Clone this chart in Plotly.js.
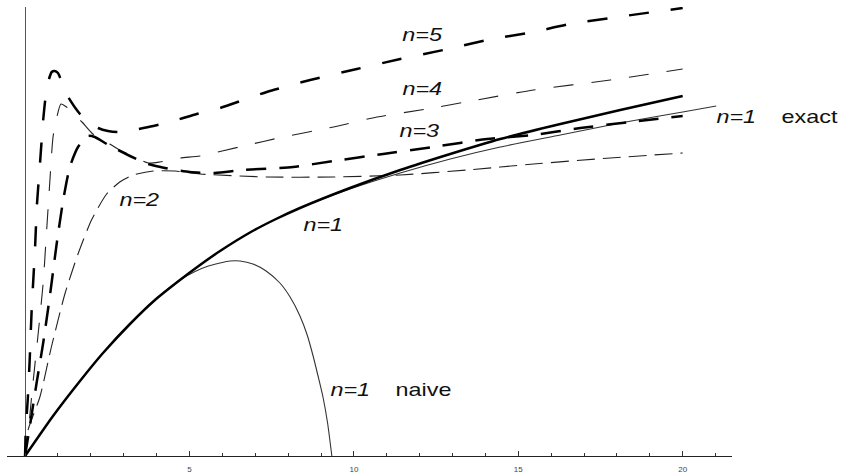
<!DOCTYPE html>
<html>
<head>
<meta charset="utf-8">
<script src="https://cdn.plot.ly/plotly-3.0.1.min.js"></script>
<style>html,body{margin:0;padding:0;background:#fff;}#chart{width:845px;height:474px;}</style>
</head>
<body>
<div id="chart"></div>
<script>
// Values (x in axis units, y in arbitrary units)
const xTicks = [5, 10, 15, 20];

const xN1 = [0,0.85,1.67,2.37,3.19,3.95,4.71,5.32,5.93,6.84,7.60,8.36,9.88,11.41,12.93,14.45,16.28,18.10,20];
const yN1 = [0,0.40,0.75,1.03,1.32,1.56,1.76,1.91,2.05,2.235,2.365,2.48,2.68,2.86,3.02,3.17,3.32,3.46,3.60];

const xExact = [0,0.85,1.67,2.37,3.19,3.95,4.71,5.32,5.93,6.84,7.60,8.36,9.88,11.41,12.93,14.45,16.28,18.10,20,21.02];
const yExact = [0,0.40,0.75,1.03,1.32,1.56,1.76,1.91,2.05,2.235,2.365,2.48,2.67,2.83,2.97,3.09,3.21,3.33,3.44,3.50];

const xNaive = [0,0.85,1.67,2.37,3.19,3.95,4.71,5.17,5.53,5.93,6.23,6.54,6.93,7.33,7.75,8.06,8.36,8.58,8.76,8.91,9.06,9.20,9.33];
const yNaive = [0,0.40,0.75,1.03,1.32,1.56,1.76,1.845,1.895,1.93,1.95,1.95,1.92,1.85,1.73,1.59,1.40,1.21,1.00,0.80,0.59,0.33,0];

const xN2 = [0,0.09,0.45,0.80,1.21,1.61,2.02,2.48,2.88,3.29,3.90,4.56,5.32,7.35,9.38,11.41,13.44,15.46,17.80,20];
const yN2 = [0,0.26,0.59,1.09,1.62,2.02,2.36,2.62,2.74,2.81,2.85,2.85,2.82,2.79,2.79,2.81,2.86,2.92,2.98,3.03];

const xN3 = [0,0.14,0.35,0.55,0.75,0.96,1.16,1.36,1.61,1.91,2.12,2.43,2.82,3.19,3.74,4.25,5.01,5.77,6.63,8.15,9.37,10.89,12.41,14.05,15.46,16.89,18.41,20];
const yN3 = [0,0.29,0.73,1.13,1.59,2.12,2.56,2.89,3.09,3.20,3.19,3.13,3.06,3.00,2.92,2.88,2.84,2.83,2.86,2.89,2.95,3.02,3.09,3.17,3.21,3.28,3.34,3.40];

const xN4 = [0,0.09,0.24,0.40,0.55,0.65,0.75,0.85,0.96,1.09,1.26,1.48,1.73,2.06,2.43,2.82,3.19,3.74,4.10,4.71,5.32,6.64,7.85,9.38,10.70,12.22,13.74,15.46,17.80,20];
const yN4 = [0,0.23,0.73,1.23,1.73,2.23,2.73,3.19,3.38,3.52,3.49,3.42,3.34,3.22,3.15,3.07,3.01,2.93,2.94,2.98,3.00,3.10,3.19,3.29,3.39,3.47,3.56,3.66,3.76,3.87];

const xN5 = [0,0.02,0.08,0.14,0.20,0.30,0.36,0.45,0.55,0.63,0.70,0.81,0.90,1.00,1.15,1.31,1.67,1.97,2.22,2.52,2.83,3.29,3.90,4.61,5.22,5.93,7.35,8.67,10.09,11.41,12.72,14.05,15.46,16.58,20];
const yN5 = [0,0.26,0.56,0.96,1.46,2.06,2.51,2.91,3.36,3.61,3.74,3.84,3.85,3.83,3.71,3.59,3.42,3.33,3.28,3.25,3.24,3.26,3.30,3.36,3.42,3.48,3.64,3.76,3.87,3.97,4.06,4.16,4.24,4.32,4.48];

function tr(x, y, w, color, dash) {
  return {x: x, y: y, type: 'scatter', mode: 'lines',
    line: {width: w, color: color, dash: dash, shape: 'spline', smoothing: 0.6},
    hoverinfo: 'skip', showlegend: false};
}

const data = [
  tr(xNaive, yNaive, 1.1, '#333', 'solid'),
  tr(xExact, yExact, 1.1, '#333', 'solid'),
  tr(xN2, yN2, 1.1, '#222', '18px,8px'),
  tr(xN4, yN4, 1.1, '#222', '20px,18px'),
  tr(xN1, yN1, 2.5, '#000', 'solid'),
  tr(xN3, yN3, 2.5, '#000', '20px,13px'),
  tr(xN5, yN5, 2.5, '#000', '20px,22px')
];

const labFont = {family: 'Liberation Sans, Arial, sans-serif', size: 18, color: '#111'};
function lab(text, x, y, xref) {
  return {text: text, x: x, y: y, xref: xref || 'x', yref: 'y', showarrow: false,
    xanchor: 'center', yanchor: 'middle', font: labFont};
}

const layout = {
  width: 845, height: 474,
  margin: {l: 7, r: 113, t: 7, b: 18},
  paper_bgcolor: '#fff', plot_bgcolor: '#fff',
  xaxis: {
    range: [-0.55, 21.5], showgrid: false, automargin: false,
    zeroline: true, zerolinecolor: '#555', zerolinewidth: 1,
    showline: true, linecolor: '#222', linewidth: 1,
    ticks: 'inside', tickvals: xTicks, ticklen: 5, tickcolor: '#333', tickwidth: 1,
    ticklabelstandoff: 5,
    minor: {ticks: 'inside', dtick: 1, tick0: 0, ticklen: 3.5, tickcolor: '#333', tickwidth: 1},
    tickfont: {family: 'Liberation Sans, Arial, sans-serif', size: 8, color: '#444'},
    fixedrange: true
  },
  yaxis: {
    range: [0, 4.49], showgrid: false, zeroline: false, showline: false, automargin: false,
    showticklabels: false, ticks: '', fixedrange: true
  },
  annotations: [
    lab('<i>n=5</i>', 12.09, 4.21),
    lab('<i>n=4</i>', 12.09, 3.67),
    lab('<i>n=3</i>', 11.99, 3.25),
    lab('<i>n=1</i>', 9.07, 2.31),
    lab('<i>n=2</i>', 3.47, 2.56),
    lab('<i>n=1</i>', 9.91, 0.66),
    lab('naive', 12.12, 0.66),
    lab('<i>n=1</i>', (736.7 - 7) / 725, 3.39, 'paper'),
    lab('exact', (810 - 7) / 725, 3.39, 'paper')
  ]
};

Plotly.newPlot('chart', data, layout, {staticPlot: true, displayModeBar: false}).then(function () {
  document.querySelectorAll('#chart .annotation-text').forEach(function (t) {
    const b = t.getBBox();
    const cx = b.x + b.width / 2;
    t.setAttribute('transform', 'translate(' + cx + ',0) scale(1.3,1) translate(' + (-cx) + ',0)');
  });
});
</script>
</body>
</html>
